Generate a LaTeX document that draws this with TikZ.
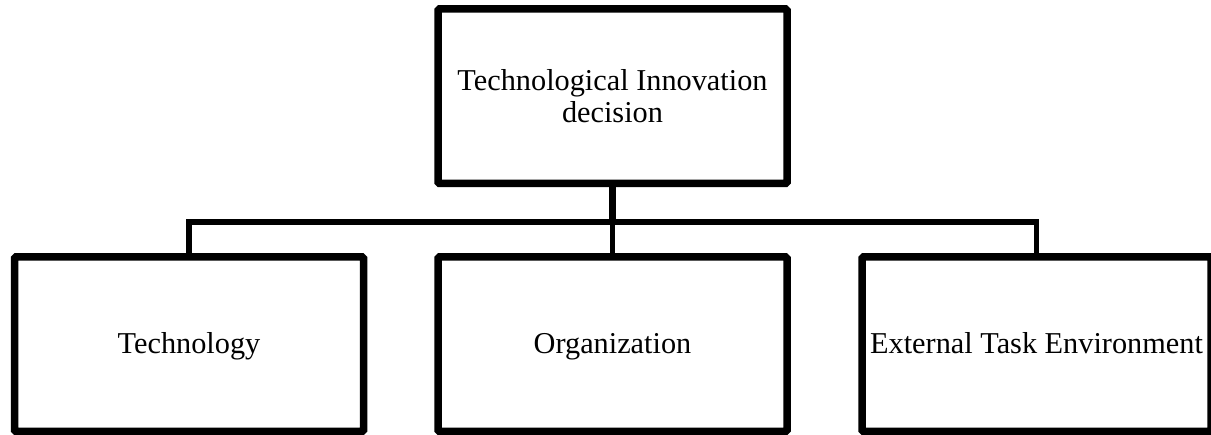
\documentclass[tikz,border=0pt]{standalone}
\usepackage{fontspec}
\setmainfont{Liberation Serif}
\begin{document}
\begin{tikzpicture}[x=1pt,y=-1pt,
  boxnode/.style={draw=black, line width=7.5pt, rectangle, rounded corners=1.5pt,
    minimum width=349pt, minimum height=174.5pt, inner sep=0pt, outer sep=0pt,
    align=center, font=\fontsize{30.3pt}{31.5pt}\selectfont, fill=white},
  onelinebox/.style={boxnode, text height=18pt, text depth=0pt},
  conn/.style={draw=black, line width=5.5pt, line join=miter}]
\useasboundingbox (0,0) rectangle (1211,435);
\node[boxnode] (top) at (612.5,96.25) {Technological Innovation\\decision};
\node[onelinebox] (tech) at (189,344.25) {Technology};
\node[onelinebox] (org) at (612.5,344.25) {Organization};
\node[onelinebox] (ext) at (1036.5,344.25) {External Task Environment};
\coordinate (hub) at (612.5,222);
\draw[conn, line width=6.5pt] (top.south) -- (hub);
\draw[conn] (tech.north) |- (hub) -| (ext.north);
\draw[conn] (hub) -- (org.north);
\end{tikzpicture}
\end{document}
